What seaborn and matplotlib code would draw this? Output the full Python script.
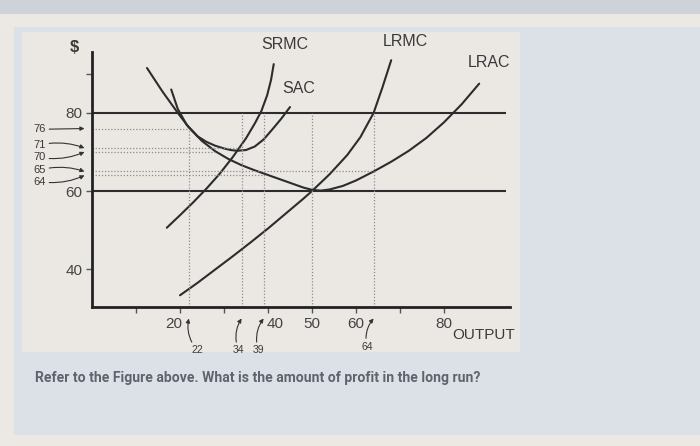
import matplotlib
matplotlib.use('Agg')
from matplotlib import pyplot as plt
from matplotlib.patches import Rectangle
from matplotlib.transforms import ScaledTranslation
import seaborn as sns
import pandas as pd

W, H = 700, 446

# curves (output, $)
lrac_x = [12.5, 16, 19.5, 22, 25, 28, 31, 34, 37, 40, 43, 46, 48, 50, 52, 54, 57, 60, 64, 68, 72, 76, 80, 84, 88]
lrac_y = [91.5, 85.5, 80, 76.3, 72.8, 70.2, 68.2, 66.6, 65.3, 64.1, 62.9, 61.7, 60.9, 60.3, 60.1, 60.4, 61.3, 62.7, 65, 67.5, 70.3, 73.6, 77.6, 82.2, 87.5]

sac_x = [18, 19.5, 21.5, 24, 26, 28, 30, 31.5, 33, 35, 37, 39, 41, 43, 45]
sac_y = [86, 81, 77, 74, 72.6, 71.6, 70.9, 70.5, 70.3, 70.5, 71.4, 73.2, 75.8, 78.5, 81.5]

srmc_x = [17, 20, 23, 26, 29, 32, 33, 35, 37, 38.5, 39.8, 40.7, 41.3]
srmc_y = [50.6, 53.8, 57.1, 60.6, 64.4, 68.7, 70.3, 73.5, 77.3, 80.5, 84.5, 88.5, 92.5]

lrmc_x = [20, 24, 28, 32, 36, 40, 44, 48, 50, 54, 58, 61, 64, 66, 68]
lrmc_y = [33.3, 36.5, 39.9, 43.3, 46.8, 50.4, 54.2, 58, 60, 64.3, 69.2, 73.8, 80, 86.5, 93.5]

price_levels = [80, 60]

guide_y = [76, 71, 70, 65, 64]
guide_y_end = [22, 34, 28, 64, 39]
guide_x = [22, 34, 39, 50, 64]
guide_x_top = [76, 80, 80, 80, 80]

x_ticks = [10, 20, 30, 40, 50, 60, 70, 80]
x_tick_labels = ['', '20', '', '40', '50', '60', '', '80']
y_ticks = [40, 60, 80, 90]
y_tick_labels = ['40', '60', '80', '']

CURVE = '#2c2c2c'
TEXT = '#3a3a3a'
DOTS = '#8c8c8c'

def px(x, y):
    return x / W, 1 - y / H

fig = plt.figure(figsize=(7, 4.46), dpi=100)
fig.patch.set_facecolor('#ece8e3')

# photo background: grey strip, blue panel, paper sheet
def rect(x0, y0, x1, y1, color):
    fx, fy = px(x0, y1)
    fig.add_artist(Rectangle((fx, fy), (x1 - x0) / W, (y1 - y0) / H,
                             transform=fig.transFigure, facecolor=color,
                             edgecolor='none', zorder=-10))

rect(0, 0, 700, 14, '#cdd3d9')
rect(14, 27, 700, 435, '#dbe1e7')
rect(22, 32, 520, 352, '#ebe8e4')

sns.set_style('ticks')
plt.rcParams['font.family'] = ['Liberation Sans', 'DejaVu Sans']

l, b = px(92, 307)
r, t = px(510, 52)
ax = fig.add_axes([l, b, r - l, t - b])
ax.set_facecolor('none')
ax.set_xlim(0, 95)
ax.set_ylim(30.3, 95.6)

df = pd.concat([
    pd.DataFrame({'output': xs, 'cost': ys, 'curve': name})
    for name, xs, ys in [('LRAC', lrac_x, lrac_y), ('SAC', sac_x, sac_y),
                         ('SRMC', srmc_x, srmc_y), ('LRMC', lrmc_x, lrmc_y)]
])
sns.lineplot(data=df, x='output', y='cost', units='curve', estimator=None,
             color=CURVE, lw=1.5, sort=False, ax=ax)

ax.hlines(price_levels, 0, 94, colors=CURVE, lw=1.5)
ax.hlines(guide_y, 0, guide_y_end, colors=DOTS, lw=0.9, linestyles=(0, (1, 1.5)))
ax.vlines(guide_x, 30.3, guide_x_top, colors=DOTS, lw=0.9, linestyles=(0, (1, 1.5)))

for s in ['top', 'right']:
    ax.spines[s].set_visible(False)
for s in ['left', 'bottom']:
    ax.spines[s].set_linewidth(2)
    ax.spines[s].set_color('#222222')

ax.set_xticks(x_ticks)
ax.set_xticklabels(x_tick_labels)
ax.set_yticks(y_ticks)
ax.set_yticklabels(y_tick_labels)
ax.tick_params(length=4, width=1, color='#555555', labelsize=11,
               labelcolor='#444444', pad=3)
ax.set_xlabel('')
ax.set_ylabel('')

# nudge "20" and "40" as in the drawing
for lab in ax.get_xticklabels():
    if lab.get_text() == '20':
        lab.set_transform(lab.get_transform() + ScaledTranslation(-6 / 100, 0, fig.dpi_scale_trans))
    if lab.get_text() == '40':
        lab.set_transform(lab.get_transform() + ScaledTranslation(7 / 100, 0, fig.dpi_scale_trans))

# curve names
ax.text(-3.9, 96.8, '$', fontsize=12, fontweight='bold', color=TEXT, ha='center', va='center', clip_on=False)
ax.text(43.9, 97.6, 'SRMC', fontsize=11.5, color=TEXT, ha='center', va='center', clip_on=False)
ax.text(71.2, 98.3, 'LRMC', fontsize=11.5, color=TEXT, ha='center', va='center', clip_on=False)
ax.text(90.3, 92.8, 'LRAC', fontsize=11.5, color=TEXT, ha='center', va='center', clip_on=False)
ax.text(47.0, 86.3, 'SAC', fontsize=11.5, color=TEXT, ha='center', va='center', clip_on=False)
ax.text(89.0, -0.11, 'OUTPUT', fontsize=11, color=TEXT, ha='center', va='center',
        transform=ax.get_xaxis_transform(), clip_on=False)

arrow = dict(arrowstyle='-|>', color='#333333', lw=0.8, mutation_scale=6, shrinkA=0, shrinkB=0)

# labels pointing at the $ axis
left_text_y = [75.8, 71.8, 68.6, 65.4, 62.4]
left_rad = [0.0, -0.15, 0.15, -0.15, 0.15]
for v, ty, rad in zip(guide_y, left_text_y, left_rad):
    ax.annotate(str(v), xy=(-0.018, v), xycoords=('axes fraction', 'data'),
                xytext=(-0.125, ty), textcoords=('axes fraction', 'data'),
                fontsize=8, color=TEXT, ha='center', va='center',
                arrowprops=dict(arrow, connectionstyle=f'arc3,rad={rad}'))

# labels pointing at the output axis
bottom_vals = [22, 34, 39, 64]
bottom_text_x = [24.0, 33.3, 37.8, 62.5]
bottom_text_y = [-0.17, -0.17, -0.17, -0.155]
for v, tx, ty in zip(bottom_vals, bottom_text_x, bottom_text_y):
    ax.annotate(str(v), xy=(v, -0.045), xycoords=('data', 'axes fraction'),
                xytext=(tx, ty), textcoords=('data', 'axes fraction'),
                fontsize=7.5, color=TEXT, ha='center', va='center',
                arrowprops=dict(arrow, connectionstyle='arc3,rad=-0.25'))

fig.text(35 / W, 1 - 378 / H, 'Refer to the Figure above. What is the amount of profit in the long run?',
         fontsize=10.1, color='#5d646d', fontweight='bold', family=['Roboto', 'DejaVu Sans'],
         ha='left', va='center')

fig.savefig('out.png', dpi=100, facecolor=fig.get_facecolor())
